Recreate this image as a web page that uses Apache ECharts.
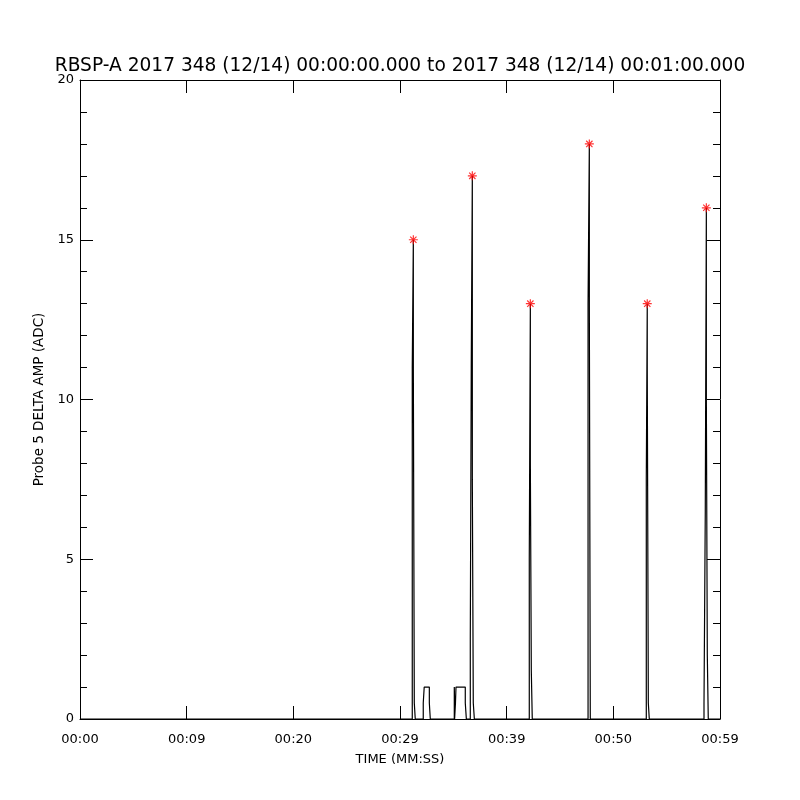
<!DOCTYPE html>
<html>
<head>
<meta charset="utf-8">
<script src="https://cdn.jsdelivr.net/npm/echarts@6/dist/echarts.min.js"></script>
<style>
html,body{margin:0;padding:0;background:#fff;}
#chart{width:800px;height:800px;}
</style>
</head>
<body>
<div id="chart"></div>
<script>
// time in seconds from 00:00:00
var times = [0,
  31.15,31.15,31.25,31.25,31.25,31.34,31.34,31.43,31.43,
  32.18,32.18,32.27,32.27,32.75,32.75,32.84,32.84,
  35.09,35.09,35.12,35.12,35.20,35.20,35.25,35.25,36.12,36.12,36.22,36.22,
  36.59,36.59,36.68,36.68,36.78,36.78,36.78,36.87,36.87,36.97,36.97,
  42.12,42.12,42.22,42.22,42.22,42.31,42.31,42.40,42.40,
  47.63,47.63,47.75,47.75,47.75,47.84,47.84,
  53.09,53.09,53.18,53.18,53.18,53.28,53.28,53.37,53.37,
  58.50,58.50,58.62,58.62,58.72,58.72,58.72,58.81,58.81,58.90,58.90,
  60];
var amps = [0,
  0,11,11,15,11,11,0.5,0.5,0,
  0,0.5,0.5,1,1,0.5,0.5,0,
  0,1,0.5,0,0,0.5,0.5,1,1,0.5,0.5,0,
  0,2.5,2.5,11,11,17,7.5,7.5,0.5,0.5,0,
  0,5,5,13,8,8,1.5,1.5,0,
  0,13,13,18,13,13,0,
  0,7.5,7.5,13,11,11,0.5,0.5,0,
  0,0.5,0.5,6.5,6.5,16,10,10,2,2,0,
  0];
var peakTimes = [31.25, 36.78, 42.22, 47.75, 53.18, 58.72];
var peakAmps = [15, 17, 13, 18, 13, 16];
var xTickLabels = ['00:00','00:09','00:20','00:29','00:39','00:50','00:59'];
var title = 'RBSP-A 2017 348 (12/14) 00:00:00.000 to 2017 348 (12/14) 00:01:00.000';
var yName = 'Probe 5 DELTA AMP (ADC)';
var xName = 'TIME (MM:SS)';

var lineData = times.map(function(t, i){ return [t, amps[i]]; });
var peakData = peakTimes.map(function(t, i){ return [t, peakAmps[i]]; });

var FONT = 'DejaVu Sans';
var chart = echarts.init(document.getElementById('chart'), null, {renderer:'canvas'});
var axLine = {show:true, onZero:false, lineStyle:{color:'#000', width:1}};
chart.setOption({
  animation:false,
  backgroundColor:'#fff',
  title:{text:title, left:'center', top:52, textStyle:{fontFamily:FONT, fontSize:18.6, fontWeight:'normal', color:'#000'}},
  grid:{left:80, right:80, top:80, bottom:81},
  xAxis:[{
    type:'value', min:0, max:60, interval:10, position:'bottom',
    name:xName, nameLocation:'middle', nameGap:34,
    nameTextStyle:{fontFamily:FONT, fontSize:13, color:'#000'},
    axisLine:axLine,
    axisTick:{show:true, inside:true, length:13, lineStyle:{color:'#000'}},
    axisLabel:{margin:14, fontFamily:FONT, fontSize:13, color:'#000',
      formatter:function(v){ return xTickLabels[Math.round(v/10)]; }},
    splitLine:{show:false}
  },{
    type:'value', min:0, max:60, interval:10, position:'top',
    axisLine:axLine,
    axisTick:{show:true, inside:true, length:13, lineStyle:{color:'#000'}},
    axisLabel:{show:false}, splitLine:{show:false}
  }],
  yAxis:[{
    type:'value', min:0, max:20, interval:5, position:'left',
    name:yName, nameLocation:'middle', nameGap:32, nameRotate:90,
    nameTextStyle:{fontFamily:FONT, fontSize:13.5, color:'#000'},
    axisLine:axLine,
    axisTick:{show:true, inside:true, length:13, lineStyle:{color:'#000'}},
    minorTick:{show:true, splitNumber:5, length:7, lineStyle:{color:'#000'}},
    axisLabel:{margin:6, fontFamily:FONT, fontSize:13, color:'#000'},
    splitLine:{show:false}
  },{
    type:'value', min:0, max:20, interval:5, position:'right',
    axisLine:axLine,
    axisTick:{show:true, inside:true, length:13, lineStyle:{color:'#000'}},
    minorTick:{show:true, splitNumber:5, length:7, lineStyle:{color:'#000'}},
    axisLabel:{show:false}, splitLine:{show:false}
  }],
  series:[{
    type:'line', data:lineData, showSymbol:false, symbol:'none',
    lineStyle:{color:'#000', width:1.2}, z:2
  },{
    type:'scatter', data:peakData,
    symbol:'path://M0,5L10,5M5,0L5,10M1.5,1.5L8.5,8.5M8.5,1.5L1.5,8.5',
    symbolSize:9,
    itemStyle:{color:'none', borderColor:'#ff0000', borderWidth:1.2}, z:3
  }]
});
</script>
</body>
</html>
